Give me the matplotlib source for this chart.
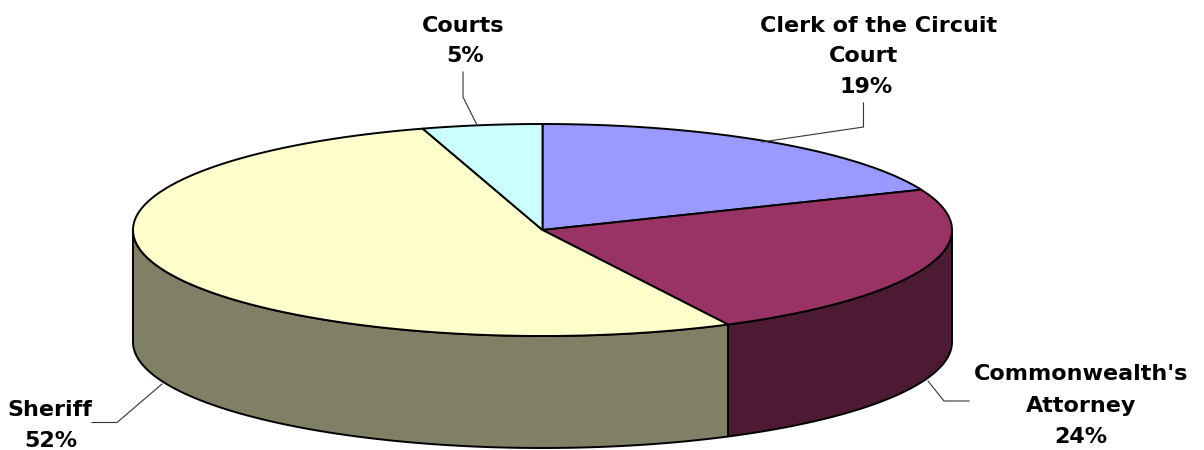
import numpy as np
import matplotlib
matplotlib.use("Agg")
import matplotlib.pyplot as plt
from matplotlib.patches import Polygon

labels = ["Clerk of the Circuit\nCourt", "Commonwealth's\nAttorney", "Sheriff", "Courts"]
shares = [18.7, 23.6, 52.49, 4.7]
top_colors = ["#9999FF", "#993366", "#FFFFCC", "#CCFFFF"]
side_colors = ["#4D4D80", "#4D1A33", "#808066", "#668080"]

# pie geometry in pixels
cx, cy = 542.5, 230
rx, ry = 409.5, 106
depth = 112


def rim(t):
    # t in degrees, clockwise from the top
    t = np.radians(t)
    return cx + rx * np.sin(t), cy - ry * np.cos(t)


fig = plt.figure(figsize=(12.04, 4.5), dpi=100)
ax = fig.add_axes([0, 0, 1, 1])
ax.set_xlim(0, 1204)
ax.set_ylim(450, 0)
ax.axis("off")

edges = np.cumsum([0] + shares) / sum(shares) * 360

# side walls, only the front half of the rim shows
for i in range(len(shares)):
    a, b = max(edges[i], 90), min(edges[i + 1], 270)
    if a >= b:
        continue
    x, y = rim(np.linspace(a, b, 200))
    pts = np.r_[np.c_[x, y], np.c_[x[::-1], y[::-1] + depth]]
    ax.add_patch(Polygon(pts, fc=side_colors[i], ec="black", lw=1.4, joinstyle="round"))

# top face
for i in range(len(shares)):
    x, y = rim(np.linspace(edges[i], edges[i + 1], 300))
    pts = np.r_[[[cx, cy]], np.c_[x, y]]
    ax.add_patch(Polygon(pts, fc=top_colors[i], ec="black", lw=1.4, joinstyle="round"))

# leader lines
ax.plot([463, 463, 477], [72, 97, 125], color="#333333", lw=0.8)
ax.plot([863.5, 863.5, 762], [103, 127, 142], color="#333333", lw=0.8)
ax.plot([969, 944, 928], [401, 401, 381], color="#333333", lw=0.8)
ax.plot([92, 117, 162], [422.5, 422.5, 384], color="#333333", lw=0.8)

# one text per line, the first Clerk line sits off centre in the original
text_style = dict(ha="center", va="baseline", fontsize=16, fontweight="bold",
                  family="DejaVu Sans", color="black")
clerk = labels[0].split("\n")
common = labels[1].split("\n")
ax.text(879, 32, clerk[0], **text_style)
ax.text(864, 62, clerk[1], **text_style)
ax.text(866, 93, f"{shares[0]:.0f}%", **text_style)
ax.text(1081, 380, common[0], **text_style)
ax.text(1081, 412, common[1], **text_style)
ax.text(1081, 443, f"{shares[1]:.0f}%", **text_style)
ax.text(50, 416, labels[2], **text_style)
ax.text(51, 447, f"{shares[2]:.0f}%", **text_style)
ax.text(463, 32, labels[3], **text_style)
ax.text(465, 62, f"{shares[3]:.0f}%", **text_style)

fig.savefig("out.png", dpi=100)
